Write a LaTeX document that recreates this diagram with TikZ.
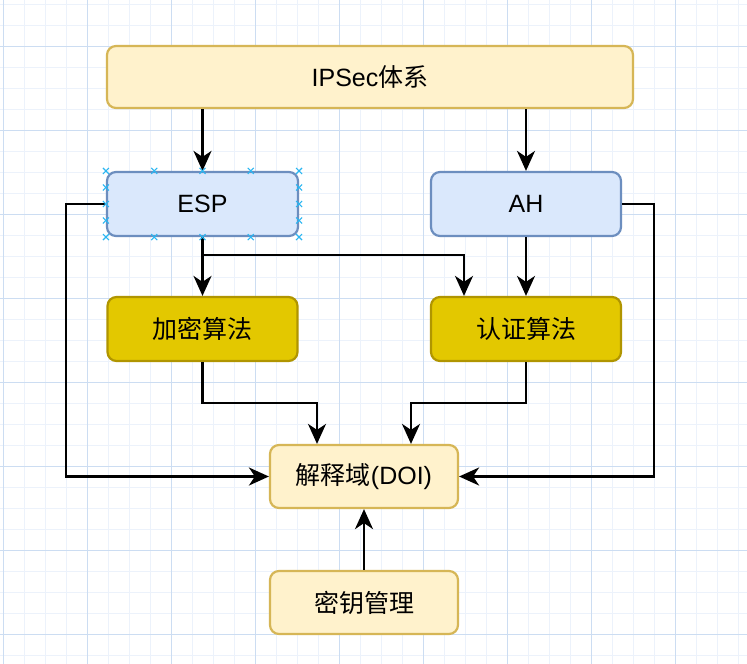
\documentclass[tikz,border=0pt]{standalone}
\usepackage{fontspec}
\setmainfont{Liberation Sans}
\newfontfamily\cjk{Noto Sans CJK SC}
\usetikzlibrary{arrows.meta,calc}
\definecolor{gridmajor}{RGB}{204,221,242}
\definecolor{gridminor}{RGB}{236,242,251}
\definecolor{yfill}{HTML}{FFF2CC}
\definecolor{ydraw}{HTML}{D6B656}
\definecolor{bfill}{HTML}{DAE8FC}
\definecolor{bdraw}{HTML}{6C8EBF}
\definecolor{gfill}{HTML}{E3C800}
\definecolor{gdraw}{HTML}{B09500}
\definecolor{handle}{HTML}{29B6F2}
\tikzset{
  box/.style={draw, rounded corners=9pt, line width=2.2pt, inner sep=0pt,
    font=\fontsize{25}{29}\selectfont, text=black},
  ybox/.style={box, fill=yfill, draw=ydraw},
  bbox/.style={box, fill=bfill, draw=bdraw},
  gbox/.style={box, fill=gfill, draw=gdraw},
  conn/.style={line width=2.3pt, black, -{Stealth[length=20pt,width=18pt,inset=6pt]}},
  handlemark/.style={handle, line width=1.1pt},
}
\begin{document}
\begin{tikzpicture}[x=1pt,y=-1pt]
\useasboundingbox (0,0) rectangle (747,664);
\fill[white] (0,0) rectangle (747,664);
% grid
\foreach \i in {0,...,36} {
  \draw[gridminor, line width=0.9pt] ({3+21*\i},0) -- ({3+21*\i},664);
}
\foreach \j in {0,...,32} {
  \draw[gridminor, line width=0.9pt] (0,{4+21*\j}) -- (747,{4+21*\j});
}
\foreach \i in {0,...,8} {
  \draw[gridmajor, line width=1pt] ({3+84*\i},0) -- ({3+84*\i},664);
}
\foreach \j in {0,...,7} {
  \draw[gridmajor, line width=1pt] (0,{46+84*\j}) -- (747,{46+84*\j});
}
% nodes
\node[ybox, minimum width=526pt, minimum height=62pt] (ipsec) at (370,77) {IPSec{\cjk 体系}};
\node[bbox, minimum width=191pt, minimum height=64pt] (esp) at (202.5,204) {ESP};
\node[bbox, minimum width=190pt, minimum height=64pt] (ah) at (526,204) {AH};
\node[gbox, minimum width=190pt, minimum height=64pt] (jiami) at (202.5,329) {\cjk 加密算法};
\node[gbox, minimum width=190pt, minimum height=64pt] (renzheng) at (526,329) {\cjk 认证算法};
\node[ybox, minimum width=188pt, minimum height=63pt] (doi) at (364,476.5) {{\cjk 解释域}(DOI)};
\node[ybox, minimum width=188pt, minimum height=63pt] (miyao) at (364,602.5) {\cjk 密钥管理};
% junction coordinates
\coordinate (j1) at (464,255);
\coordinate (j2) at (317,403);
\coordinate (j3) at (411,403);
\coordinate (jl) at (66,204);
\coordinate (jr) at (654,204);
% connectors
\draw[conn] (ipsec.south -| esp.north) -- (esp.north);
\draw[conn] (ipsec.south -| ah.north) -- (ah.north);
\draw[conn] (esp.south) -- (jiami.north);
\draw[conn] (esp.south) |- (j1) -- (j1 |- renzheng.north);
\draw[conn] (ah.south) -- (renzheng.north);
\draw[conn] (esp.west) -- (jl) |- (doi.west);
\draw[conn] (ah.east) -- (jr) |- (doi.east);
\draw[conn] (jiami.south) |- (j2) -- (j2 |- doi.north);
\draw[conn] (renzheng.south) |- (j3) -- (j3 |- doi.north);
\draw[conn] (miyao.north) -- (doi.south);
% selection handles on ESP
\foreach \hx in {0,0.25,0.5,0.75,1} {
  \path ($(esp.north west)!\hx!(esp.north east)$) coordinate (ht);
  \path ($(esp.south west)!\hx!(esp.south east)$) coordinate (hb);
  \draw[handlemark] ($(ht)+(-3,-3)$) -- ($(ht)+(3,3)$) ($(ht)+(-3,3)$) -- ($(ht)+(3,-3)$);
  \draw[handlemark] ($(hb)+(-3,-3)$) -- ($(hb)+(3,3)$) ($(hb)+(-3,3)$) -- ($(hb)+(3,-3)$);
}
\foreach \hy in {0.25,0.5,0.75} {
  \path ($(esp.north west)!\hy!(esp.south west)$) coordinate (hl);
  \path ($(esp.north east)!\hy!(esp.south east)$) coordinate (hr);
  \draw[handlemark] ($(hl)+(-3,-3)$) -- ($(hl)+(3,3)$) ($(hl)+(-3,3)$) -- ($(hl)+(3,-3)$);
  \draw[handlemark] ($(hr)+(-3,-3)$) -- ($(hr)+(3,3)$) ($(hr)+(-3,3)$) -- ($(hr)+(3,-3)$);
}
\end{tikzpicture}
\end{document}
